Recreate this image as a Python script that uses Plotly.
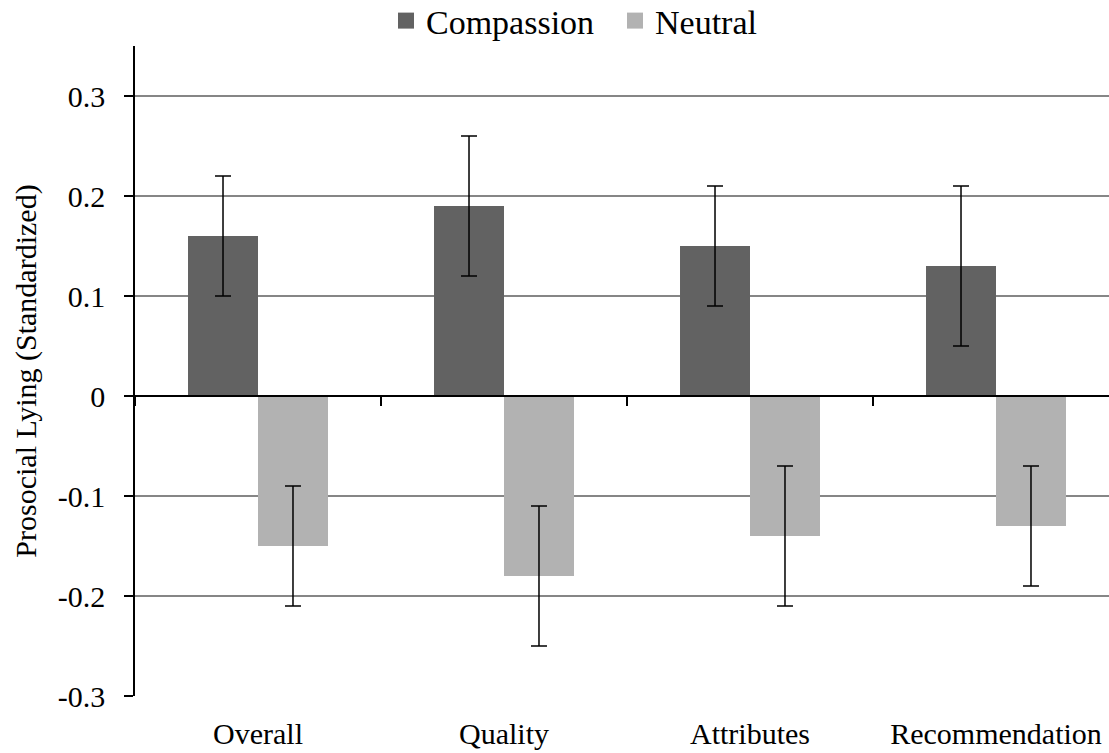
import plotly.graph_objects as go

categories = ["Overall", "Quality", "Attributes", "Recommendation"]
compassion = [0.16, 0.19, 0.15, 0.13]
compassion_err = [0.06, 0.07, 0.06, 0.08]
neutral = [-0.15, -0.18, -0.14, -0.13]
neutral_err = [0.06, 0.07, 0.07, 0.06]
y_ticks = [-0.3, -0.2, -0.1, 0, 0.1, 0.2, 0.3]
y_ticktext = ["-0.3", "-0.2", "-0.1", "0", "0.1", "0.2", "0.3"]

COL_COMP = "#626262"
COL_NEUT = "#b2b2b2"
FONT = "Liberation Serif, Times New Roman, serif"
err_style = dict(type="data", visible=True, color="black", thickness=1.5, width=8)

fig = go.Figure()
fig.add_trace(go.Bar(name="Compassion", x=categories, y=compassion, showlegend=False,
                     marker=dict(color=COL_COMP, line=dict(width=0)),
                     error_y=dict(array=compassion_err, **err_style)))
fig.add_trace(go.Bar(name="Neutral", x=categories, y=neutral, showlegend=False,
                     marker=dict(color=COL_NEUT, line=dict(width=0)),
                     error_y=dict(array=neutral_err, **err_style)))
# legend entries with larger square swatches
for nm, col in (("Compassion", COL_COMP), ("Neutral", COL_NEUT)):
    fig.add_trace(go.Scatter(name=nm, x=[None], y=[None], mode="markers",
                             marker=dict(symbol="square", size=16, color=col,
                                         line=dict(width=0)),
                             showlegend=True, hoverinfo="skip"))
# invisible trace on the overlaid axis drawn at y=0
fig.add_trace(go.Scatter(x=categories, y=[0, 0, 0, 0], xaxis="x2", mode="markers",
                         marker=dict(opacity=0), showlegend=False, hoverinfo="skip"))

W, H = 1109, 753
ML, MT, MB, MR = 135, 46, 57, 0
H_PLOT = H - MT - MB
W_PLOT = W - ML - MR

yr = [-0.3, 0.35]
zero_pos = (0 - yr[0]) / (yr[1] - yr[0])

fig.update_layout(
    width=W, height=H,
    margin=dict(l=ML, r=MR, t=MT, b=MB, autoexpand=False),
    paper_bgcolor="white", plot_bgcolor="white",
    font=dict(family=FONT, size=30, color="black"),
    barmode="group", bargap=0.431, bargroupgap=0,
    showlegend=True,
    legend=dict(orientation="h", x=(386 - ML) / W_PLOT, xanchor="left",
                y=1 + (MT - 21) / H_PLOT, yanchor="middle",
                font=dict(size=34), itemwidth=30, entrywidth=184,
                traceorder="normal", bgcolor="rgba(0,0,0,0)"),
    xaxis=dict(range=[-0.5, 3.5 - 10 / 246], showgrid=False, showline=False,
               ticks="", tickfont=dict(size=30), ticklabelstandoff=17,
               automargin=False),
    xaxis2=dict(overlaying="x", matches="x", anchor="free", position=zero_pos,
                side="bottom", showline=True, linecolor="black", linewidth=1.5,
                ticks="outside", tickson="boundaries", ticklen=9, tickwidth=1.5,
                tickcolor="black", showticklabels=False, showgrid=False,
                automargin=False),
    yaxis=dict(range=yr, tickvals=y_ticks, ticktext=y_ticktext,
               showgrid=True, gridcolor="#868686", gridwidth=1.5,
               zeroline=True, zerolinecolor="black", zerolinewidth=1.5,
               showline=True, linecolor="black", linewidth=1.5,
               ticks="outside", ticklen=9, tickwidth=1.5, tickcolor="black",
               ticklabelstandoff=13, tickfont=dict(size=30), automargin=False,
               title=dict(text="Prosocial Lying (Standardized)", font=dict(size=30), standoff=12)),
)

# remove the default 8px page margin so the figure fills the window exactly
fig.write_html("out.html", config={"displayModeBar": False},
               post_script="document.body.style.margin='0';")
